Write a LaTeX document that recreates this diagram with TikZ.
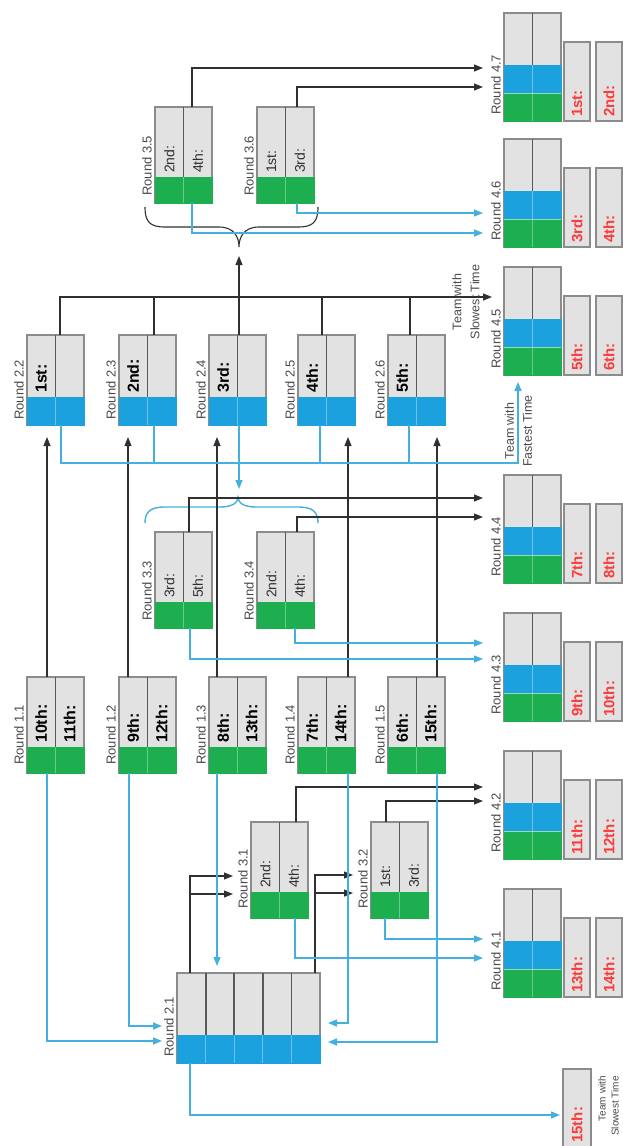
\documentclass[tikz,border=0pt]{standalone}
\usepackage{fontspec}
\setmainfont{Liberation Sans}
\usetikzlibrary{arrows.meta}
\definecolor{boxgray}{HTML}{E2E2E2}
\definecolor{boxborder}{HTML}{8C8C8C}
\definecolor{divgray}{HTML}{595959}
\definecolor{blueF}{HTML}{1BA1DE}
\definecolor{greenF}{HTML}{1DAE50}
\definecolor{lineblu}{HTML}{45B0DE}
\definecolor{lineblk}{HTML}{303030}
\definecolor{redT}{HTML}{FF3A3A}
\definecolor{lblgray}{HTML}{4A4A4A}
% two-column round box: name, x, ytop, ybot, band top, band colour, left text, right text, text style
\newcommand\TwoCol[9]{%
  \node[box, minimum width=57pt, minimum height={(#4-#3)*1pt}] (#1) at (#2,#3) {};
  \fill[#6] ({#2-0.5},#5) rectangle ({#2+57.5},{#4+0.5});
  \draw[divider] ({#2+28.5},#3) -- ({#2+28.5},#5);
  \draw[bandline] ({#2+28.5},#5) -- ({#2+28.5},#4);
  \node[coltxt,#9] (#1-l) at ({#2+14.25},{#5-4}) {#7};
  \node[coltxt,#9] (#1-r) at ({#2+42.75},{#5-4}) {#8};
}
% final round box: name, ytop
\newcommand\FinBox[2]{%
  \node[box, minimum width=57pt, minimum height=108pt] (#1) at (504,#2) {};
  \fill[blueF] (503.5,{#2+52}) rectangle (561.5,{#2+80});
  \fill[greenF] (503.5,{#2+80}) rectangle (561.5,{#2+108.5});
  \draw[divider] (532.5,#2) -- (532.5,{#2+52});
  \draw[bandline] (532.5,{#2+52}) -- (532.5,{#2+108});
  \draw[sepline] (504,{#2+80}) -- (561,{#2+80});
}
% placing box: name, x, ytop of final box, text
\newcommand\Place[4]{%
  \node[box, minimum width=26pt, minimum height=79pt] (#1) at (#2,{#3+29}) {};
  \node[coltxt,redtxt] (#1-t) at ({#2+13},{#3+104}) {#4};
}
\begin{document}
\begin{tikzpicture}[x=1pt,y=-1pt,
  box/.style={draw=boxborder, line width=1.1pt, fill=boxgray, inner sep=0pt, outer sep=0pt, anchor=north west},
  divider/.style={draw=divgray, line width=1.8pt},
  bandline/.style={draw=white, draw opacity=0.35, line width=0.8pt},
  sepline/.style={draw=white, draw opacity=0.55, line width=0.8pt},
  lbl/.style={rotate=90, anchor=south west, inner sep=0pt, text=lblgray, font=\fontsize{13}{15}\selectfont},
  coltxt/.style={rotate=90, anchor=west, inner sep=0pt},
  boldtxt/.style={font=\fontsize{16}{18}\selectfont\bfseries, text=black},
  regtxt/.style={font=\fontsize{14}{16}\selectfont, text=lineblk},
  redtxt/.style={font=\fontsize{15}{17}\selectfont\bfseries, text=redT},
  note/.style={rotate=90, align=center, inner sep=0pt, text=lblgray, font=\fontsize{12.5}{18}\selectfont},
  blk/.style={draw=lineblk, line width=1.1pt},
  blu/.style={draw=lineblu, line width=1.4pt},
  blkarr/.style={blk, -{Triangle[length=9pt,width=7pt]}},
  bluarr/.style={blu, -{Triangle[length=9pt,width=7pt]}}
]
\useasboundingbox (0,0) rectangle (622,1146);

% ---------------- boxes ----------------
\TwoCol{r11}{27}{677}{773}{747}{greenF}{10th:}{11th:}{boldtxt}
\TwoCol{r12}{119}{677}{773}{747}{greenF}{9th:}{12th:}{boldtxt}
\TwoCol{r13}{209}{677}{773}{747}{greenF}{8th:}{13th:}{boldtxt}
\TwoCol{r14}{298}{677}{773}{747}{greenF}{7th:}{14th:}{boldtxt}
\TwoCol{r15}{388}{677}{773}{747}{greenF}{6th:}{15th:}{boldtxt}

\TwoCol{r22}{27}{335}{425}{397}{blueF}{1st:}{}{boldtxt}
\TwoCol{r23}{119}{335}{425}{397}{blueF}{2nd:}{}{boldtxt}
\TwoCol{r24}{209}{335}{425}{397}{blueF}{3rd:}{}{boldtxt}
\TwoCol{r25}{298}{335}{425}{397}{blueF}{4th:}{}{boldtxt}
\TwoCol{r26}{388}{335}{425}{397}{blueF}{5th:}{}{boldtxt}

\TwoCol{r35}{155}{107}{203}{177}{greenF}{2nd:}{4th:}{regtxt}
\TwoCol{r36}{257}{107}{203}{177}{greenF}{1st:}{3rd:}{regtxt}
\TwoCol{r33}{155}{532}{628}{602}{greenF}{3rd:}{5th:}{regtxt}
\TwoCol{r34}{257}{532}{628}{602}{greenF}{2nd:}{4th:}{regtxt}
\TwoCol{r31}{251}{822}{918}{892}{greenF}{2nd:}{4th:}{regtxt}
\TwoCol{r32}{371}{822}{918}{892}{greenF}{1st:}{3rd:}{regtxt}

% Round 2.1 (five columns)
\node[box, minimum width=143pt, minimum height=90pt] (r21) at (177,973) {};
\fill[blueF] (176.5,1035) rectangle (320.5,1063.5);
\foreach \xx in {205.6,234.2,262.8,291.4}{
  \draw[divider] (\xx,973) -- (\xx,1035);
  \draw[bandline] (\xx,1035) -- (\xx,1063);
}

% final round boxes
\FinBox{r47}{13}
\FinBox{r46}{139}
\FinBox{r45}{267}
\FinBox{r44}{475}
\FinBox{r43}{613}
\FinBox{r42}{751}
\FinBox{r41}{889}

\Place{p1}{564}{13}{1st:}
\Place{p2}{596}{13}{2nd:}
\Place{p3}{564}{139}{3rd:}
\Place{p4}{596}{139}{4th:}
\Place{p5}{564}{267}{5th:}
\Place{p6}{596}{267}{6th:}
\Place{p7}{564}{475}{7th:}
\Place{p8}{596}{475}{8th:}
\Place{p9}{564}{613}{9th:}
\Place{p10}{596}{613}{10th:}
\Place{p11}{564}{751}{11th:}
\Place{p12}{596}{751}{12th:}
\Place{p13}{564}{889}{13th:}
\Place{p14}{596}{889}{14th:}
\node[box, minimum width=28pt, minimum height=90pt] (p15) at (563,1069) {};
\node[coltxt,redtxt] (p15-t) at (577,1143) {15th:};

% ---------------- labels ----------------
\node[lbl] (l11) at (24,765) {Round 1.1};
\node[lbl] (l12) at (116,765) {Round 1.2};
\node[lbl] (l13) at (206,765) {Round 1.3};
\node[lbl] (l14) at (295,765) {Round 1.4};
\node[lbl] (l15) at (385,765) {Round 1.5};
\node[lbl] (l22) at (24,420) {Round 2.2};
\node[lbl] (l23) at (116,420) {Round 2.3};
\node[lbl] (l24) at (206,420) {Round 2.4};
\node[lbl] (l25) at (295,420) {Round 2.5};
\node[lbl] (l26) at (385,420) {Round 2.6};
\node[lbl] (l21) at (174,1057) {Round 2.1};
\node[lbl] (l35) at (152,196) {Round 3.5};
\node[lbl] (l36) at (254,196) {Round 3.6};
\node[lbl] (l33) at (152,621) {Round 3.3};
\node[lbl] (l34) at (254,621) {Round 3.4};
\node[lbl] (l31) at (248,909) {Round 3.1};
\node[lbl] (l32) at (368,909) {Round 3.2};
\node[lbl] (l47) at (501,115) {Round 4.7};
\node[lbl] (l46) at (501,241) {Round 4.6};
\node[lbl] (l45) at (501,369) {Round 4.5};
\node[lbl] (l44) at (501,577) {Round 4.4};
\node[lbl] (l43) at (501,715) {Round 4.3};
\node[lbl] (l42) at (501,853) {Round 4.2};
\node[lbl] (l41) at (501,991) {Round 4.1};

\node[note] (slow1) at (466,302) {Team with\\Slowest Time};
\node[note] (fast1) at (518.5,431) {Team with\\Fastest Time};
\node[note, font=\fontsize{10}{13}\selectfont, align=right, anchor=east] (slow2) at (608.5,1076) {Team with\\Slowest Time};

% ---------------- coordinates ----------------
\coordinate (slowTip) at (492,297);
\coordinate (busL) at (60,297);
\coordinate (fastBend) at (518,463);
\coordinate (fastTip) at (518,382);
\coordinate (b1tip) at (239,256);
\coordinate (b2tip) at (239,489);
\coordinate (a47a) at (483,68);
\coordinate (a47b) at (483,87);
\coordinate (a46a) at (483,213);
\coordinate (a46b) at (483,233);
\coordinate (a44a) at (483,498);
\coordinate (a44b) at (483,517);
\coordinate (a43a) at (483,643);
\coordinate (a43b) at (483,659);
\coordinate (a42a) at (483,787);
\coordinate (a42b) at (483,801);
\coordinate (a41a) at (483,939);
\coordinate (a41b) at (483,958);
\coordinate (a31a) at (233,876);
\coordinate (a31b) at (233,894);
\coordinate (a32a) at (353,875);
\coordinate (a32b) at (353,893);
\coordinate (a21a) at (162,1041);
\coordinate (a21b) at (162,1026);
\coordinate (a21c) at (217,966);
\coordinate (a21d) at (328,1023);
\coordinate (a21e) at (328,1042);
\coordinate (a15) at (560,1115);

% ---------------- braces ----------------
\draw[blk] (145,207) .. controls (145,222) and (150,227) .. (165,227) -- (219,227)
  .. controls (234,227) and (239,237) .. (239,247)
  .. controls (239,237) and (244,227) .. (259,227) -- (298,227)
  .. controls (313,227) and (318,222) .. (318,207);
\draw[blu] (145,523) .. controls (145,512) and (150,507) .. (165,507) -- (220,507)
  .. controls (232,507) and (238,503) .. (238,497)
  .. controls (238,503) and (244,507) .. (256,507) -- (298,507)
  .. controls (313,507) and (318,512) .. (318,523);

% ---------------- black connectors ----------------
\draw[blkarr] ([xshift=20pt]r11.north west) -- ([xshift=20pt,yshift=-12pt]r22.south west);
\draw[blkarr] ([xshift=9pt]r12.north west) -- ([xshift=9pt,yshift=-12pt]r23.south west);
\draw[blkarr] ([xshift=8pt]r13.north west) -- ([xshift=8pt,yshift=-12pt]r24.south west);
\draw[blkarr] ([xshift=50pt]r14.north west) -- ([xshift=50pt,yshift=-12pt]r25.south west);
\draw[blkarr] ([xshift=49pt]r15.north west) -- ([xshift=49pt,yshift=-12pt]r26.south west);

\draw[blkarr] ([xshift=33pt]r22.north west) |- (slowTip);
\draw[blk] ([xshift=35pt]r23.north west) |- (busL);
\draw[blk] ([xshift=30pt]r24.north west) |- (busL);
\draw[blk] ([xshift=24pt]r25.north west) |- (busL);
\draw[blk] ([xshift=22pt]r26.north west) |- (busL);
\draw[blkarr] ([xshift=30pt]r24.north west) -- (b1tip);

\draw[blkarr] ([xshift=37pt]r35.north west) |- (a47a);
\draw[blkarr] ([xshift=40pt]r36.north west) |- (a47b);
\draw[blkarr] ([xshift=34pt]r33.north west) |- (a44a);
\draw[blkarr] ([xshift=40pt]r34.north west) |- (a44b);
\draw[blkarr] ([xshift=45pt]r31.north west) |- (a42a);
\draw[blkarr] ([xshift=15pt]r32.north west) |- (a42b);

\draw[blkarr] ([xshift=13pt]r21.north west) |- (a31a);
\draw[blkarr] ([xshift=13pt]r21.north west) |- (a31b);
\draw[blkarr] ([xshift=138pt]r21.north west) |- (a32a);
\draw[blkarr] ([xshift=138pt]r21.north west) |- (a32b);

% ---------------- blue connectors ----------------
\draw[bluarr] ([xshift=34pt]r22.south west) |- (fastBend) -- (fastTip);
\draw[blu] ([xshift=35pt]r23.south west) |- (fastBend);
\draw[blu] ([xshift=30pt]r24.south west) |- (fastBend);
\draw[blu] ([xshift=22pt]r25.south west) |- (fastBend);
\draw[blu] ([xshift=21pt]r26.south west) |- (fastBend);
\draw[bluarr] ([xshift=30pt]r24.south west) -- (b2tip);

\draw[bluarr] ([xshift=37pt]r35.south west) |- (a46b);
\draw[bluarr] ([xshift=40pt]r36.south west) |- (a46a);
\draw[bluarr] ([xshift=35pt]r33.south west) |- (a43b);
\draw[bluarr] ([xshift=38pt]r34.south west) |- (a43a);
\draw[bluarr] ([xshift=44pt]r31.south west) |- (a41b);
\draw[bluarr] ([xshift=14pt]r32.south west) |- (a41a);

\draw[bluarr] ([xshift=20pt]r11.south west) |- (a21a);
\draw[bluarr] ([xshift=10pt]r12.south west) |- (a21b);
\draw[bluarr] ([xshift=8pt]r13.south west) -- (a21c);
\draw[bluarr] ([xshift=50pt]r14.south west) |- (a21d);
\draw[bluarr] ([xshift=49pt]r15.south west) |- (a21e);
\draw[bluarr] ([xshift=13pt]r21.south west) |- (a15);
\end{tikzpicture}
\end{document}
